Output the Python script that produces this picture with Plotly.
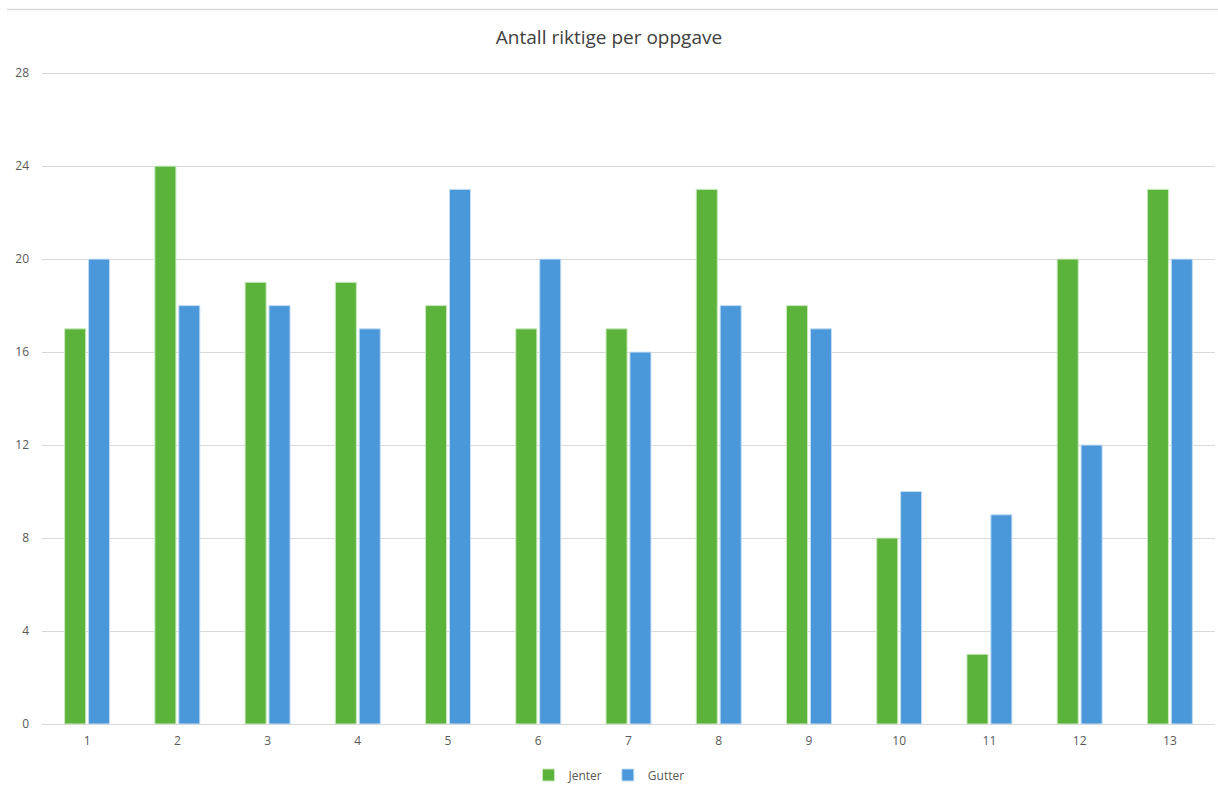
import plotly.graph_objects as go

# Task numbers and number of correct answers per group
oppgaver = [str(i) for i in range(1, 14)]
jenter = [17, 24, 19, 19, 18, 17, 17, 23, 18, 8, 3, 20, 23]
gutter = [20, 18, 18, 17, 23, 20, 16, 18, 17, 10, 9, 12, 20]
y_ticks = [0, 4, 8, 12, 16, 20, 24, 28]

W, H = 1218, 785
ML, MR, MT, MB = 42, 3, 72, 61

fig = go.Figure()
fig.add_trace(go.Bar(
    name="Jenter", x=oppgaver, y=jenter,
    marker=dict(color="#5cb33b", line=dict(color="#c9e8bd", width=1)),
))
fig.add_trace(go.Bar(
    name="Gutter", x=oppgaver, y=gutter,
    marker=dict(color="#4a98da", line=dict(color="#c3ddf4", width=1)),
))

pw = W - ML - MR
ph = H - MT - MB

fig.update_layout(
    width=W, height=H,
    margin=dict(l=ML, r=MR, t=MT, b=MB, autoexpand=False),
    paper_bgcolor="white", plot_bgcolor="white",
    barmode="group", bargap=0.47, bargroupgap=0.12,
    font=dict(family="Open Sans, Noto Sans, sans-serif", color="#595959", size=12),
    title=dict(
        text="Antall riktige per oppgave",
        x=0.5, xanchor="center", y=1 - 37 / H, yanchor="middle",
        font=dict(size=19, color="#404040"),
    ),
    xaxis=dict(
        showgrid=False, showline=True, linecolor="#d9d9d9", linewidth=1,
        ticks="", ticklabelstandoff=6, tickfont=dict(size=12, color="#595959"),
    ),
    yaxis=dict(
        range=[0, 28.05], tickvals=y_ticks, showgrid=True, gridcolor="#d9d9d9",
        gridwidth=1, zeroline=False, showline=False, ticks="",
        ticklabelstandoff=12, tickfont=dict(size=12, color="#595959"),
    ),
    legend=dict(
        orientation="h", x=0.5, xanchor="center", xref="container",
        y=1 - 775 / H, yanchor="middle", yref="container",
        font=dict(size=12, color="#595959"),
        itemwidth=30, traceorder="normal",
    ),
    shapes=[dict(
        type="line", xref="paper", yref="paper",
        x0=(7 - ML) / pw, x1=(W - ML) / pw,
        y0=1 + (MT - 9.5) / ph, y1=1 + (MT - 9.5) / ph,
        line=dict(color="#d9d9d9", width=1.5),
    )],
)

fig.write_html("out.html")
